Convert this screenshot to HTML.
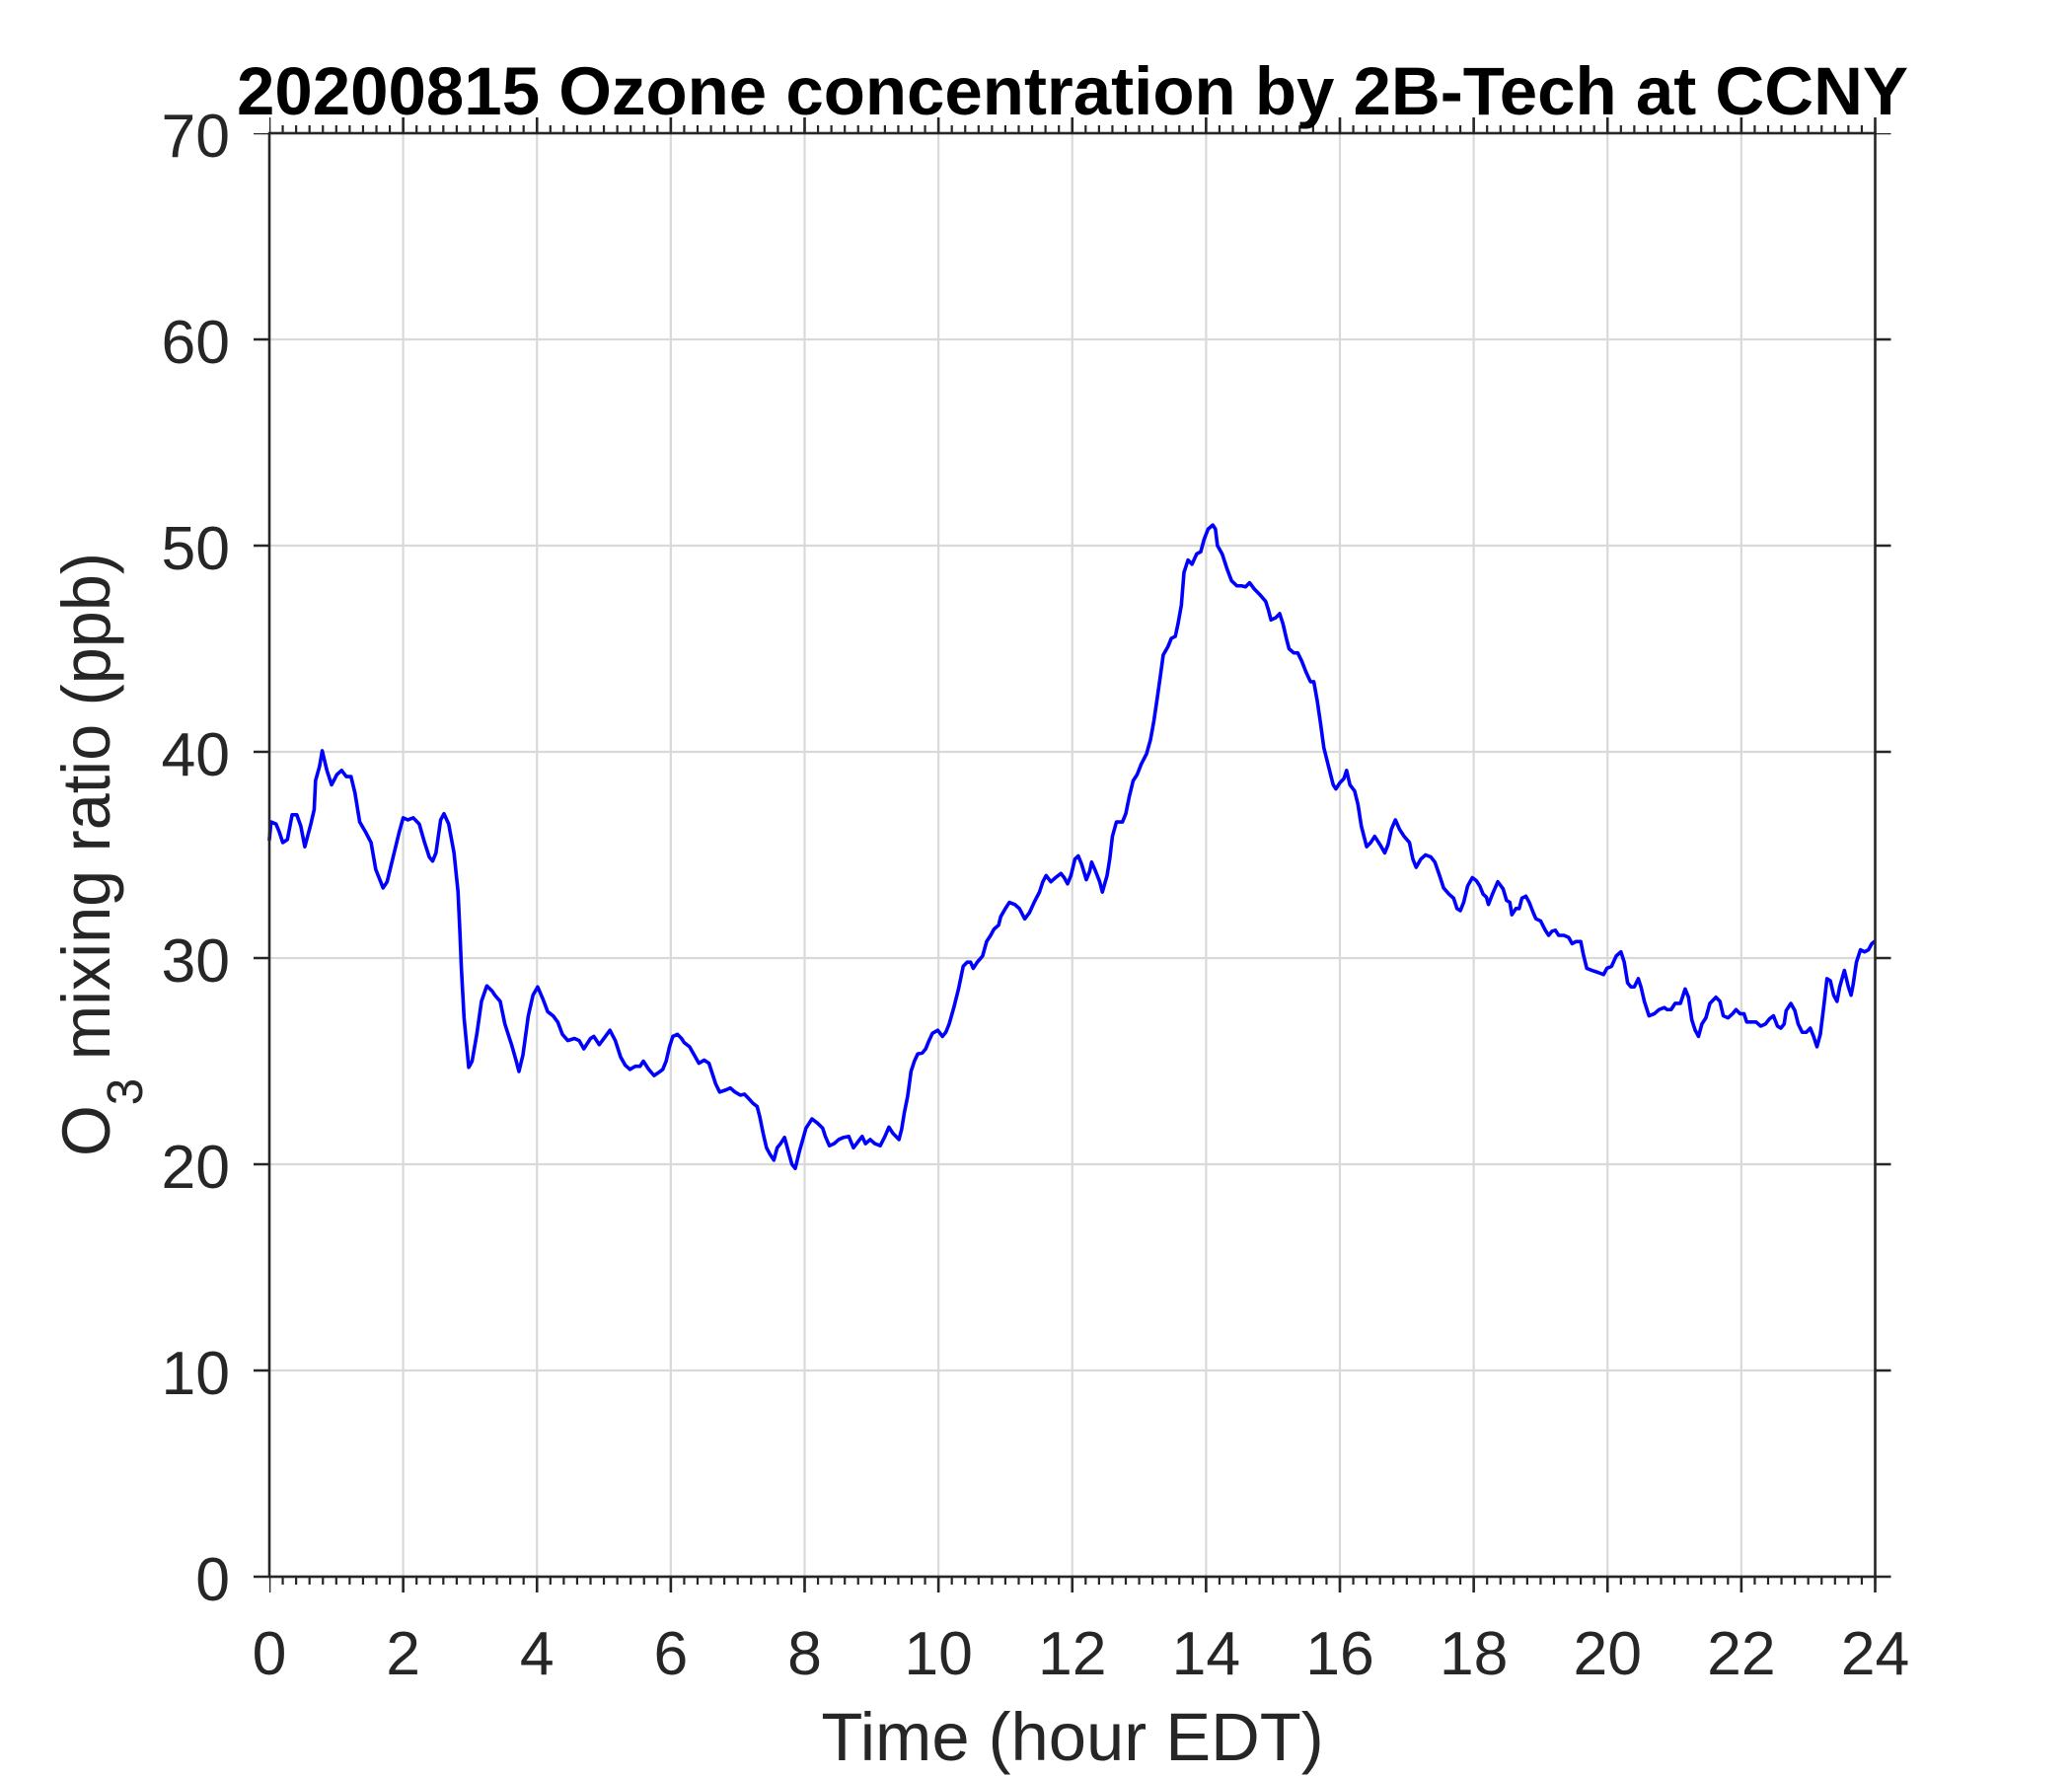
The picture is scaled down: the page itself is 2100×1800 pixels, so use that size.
<!DOCTYPE html>
<html>
<head>
<meta charset="utf-8">
<style>
html, body { margin: 0; padding: 0; background: #ffffff; }
svg { display: block; }
text { font-family: "Liberation Sans", Arial, sans-serif; }
</style>
</head>
<body>
<svg width="2100" height="1800" viewBox="0 0 2100 1800" xmlns="http://www.w3.org/2000/svg">
<rect x="0" y="0" width="2100" height="1800" fill="#ffffff"/>
<line x1="273" y1="866.5" x2="1901.6" y2="866.5" stroke="#d9d9d9" stroke-width="1463" stroke-dasharray="2.2 133.425" stroke-dashoffset="1.1"/>
<line x1="1087" y1="135" x2="1087" y2="1599.2" stroke="#d9d9d9" stroke-width="1627.5" stroke-dasharray="2.2 206.8" stroke-dashoffset="1.1"/>
<g transform="translate(273,1598) scale(67.8125,-20.9)">
<path fill="none" stroke="#0000ff" stroke-width="3.6" stroke-linejoin="round" stroke-linecap="round" vector-effect="non-scaling-stroke" d="M0 35.75 L0.025 36.6 L0.1 36.5 L0.15 36.1 L0.2 35.6 L0.27 35.75 L0.34 36.95 L0.41 36.95 L0.47 36.4 L0.53 35.4 L0.62 36.5 L0.67 37.2 L0.69 38.6 L0.75 39.3 L0.79 40.05 L0.86 39.1 L0.93 38.4 L1.01 38.9 L1.08 39.1 L1.15 38.8 L1.22 38.8 L1.28 38.0 L1.35 36.6 L1.44 36.1 L1.52 35.6 L1.59 34.3 L1.7 33.4 L1.76 33.7 L1.85 34.9 L1.94 36.1 L2.0 36.8 L2.07 36.7 L2.15 36.8 L2.24 36.5 L2.32 35.6 L2.39 34.9 L2.44 34.7 L2.49 35.1 L2.56 36.7 L2.61 37.0 L2.68 36.5 L2.76 35.1 L2.82 33.2 L2.85 31.1 L2.87 29.5 L2.91 27.1 L2.98 24.7 L3.03 25.0 L3.1 26.3 L3.17 27.9 L3.25 28.65 L3.33 28.4 L3.37 28.2 L3.45 27.9 L3.52 26.8 L3.62 25.8 L3.69 25.0 L3.73 24.5 L3.79 25.3 L3.87 27.2 L3.94 28.2 L4.01 28.6 L4.09 28.0 L4.16 27.4 L4.24 27.2 L4.31 26.9 L4.38 26.3 L4.46 26.0 L4.56 26.1 L4.63 26.0 L4.7 25.6 L4.8 26.1 L4.85 26.2 L4.93 25.8 L5.0 26.1 L5.09 26.5 L5.17 26.0 L5.25 25.2 L5.32 24.8 L5.39 24.6 L5.47 24.75 L5.54 24.75 L5.59 25.0 L5.67 24.6 L5.75 24.3 L5.84 24.5 L5.88 24.6 L5.93 25.0 L5.98 25.7 L6.03 26.2 L6.1 26.3 L6.16 26.1 L6.2 25.9 L6.28 25.7 L6.35 25.3 L6.42 24.9 L6.5 25.05 L6.57 24.9 L6.62 24.4 L6.67 23.9 L6.73 23.5 L6.82 23.6 L6.89 23.7 L6.96 23.5 L7.04 23.35 L7.1 23.4 L7.16 23.2 L7.23 22.95 L7.29 22.8 L7.33 22.3 L7.38 21.5 L7.43 20.8 L7.48 20.5 L7.54 20.2 L7.59 20.8 L7.64 21.0 L7.7 21.3 L7.75 20.7 L7.81 20.0 L7.86 19.8 L7.92 20.6 L8.02 21.75 L8.11 22.2 L8.19 22.0 L8.27 21.75 L8.31 21.35 L8.37 20.9 L8.44 21.0 L8.51 21.2 L8.58 21.3 L8.66 21.35 L8.73 20.8 L8.8 21.1 L8.86 21.35 L8.91 21.0 L8.98 21.2 L9.05 21.0 L9.13 20.9 L9.2 21.35 L9.26 21.8 L9.32 21.5 L9.41 21.2 L9.45 21.7 L9.49 22.5 L9.54 23.3 L9.59 24.5 L9.64 25.0 L9.69 25.35 L9.76 25.4 L9.81 25.6 L9.86 26.0 L9.91 26.35 L9.99 26.5 L10.06 26.2 L10.11 26.4 L10.16 26.8 L10.23 27.6 L10.3 28.5 L10.37 29.6 L10.43 29.8 L10.48 29.8 L10.52 29.5 L10.58 29.8 L10.66 30.1 L10.72 30.8 L10.78 31.1 L10.83 31.4 L10.9 31.6 L10.93 32.0 L11.0 32.4 L11.06 32.7 L11.14 32.6 L11.21 32.4 L11.29 31.9 L11.36 32.2 L11.43 32.7 L11.51 33.2 L11.56 33.7 L11.61 34.0 L11.68 33.7 L11.75 33.9 L11.83 34.1 L11.88 33.9 L11.93 33.6 L11.98 34.0 L12.04 34.8 L12.09 34.95 L12.14 34.55 L12.21 33.8 L12.26 34.2 L12.29 34.65 L12.35 34.2 L12.41 33.7 L12.45 33.2 L12.52 34.0 L12.56 34.8 L12.6 35.9 L12.66 36.6 L12.75 36.6 L12.8 37.0 L12.85 37.8 L12.91 38.6 L12.97 38.9 L13.03 39.4 L13.11 39.9 L13.17 40.6 L13.22 41.5 L13.27 42.6 L13.32 43.75 L13.36 44.7 L13.43 45.1 L13.48 45.5 L13.54 45.6 L13.58 46.2 L13.63 47.1 L13.67 48.7 L13.73 49.3 L13.79 49.1 L13.86 49.6 L13.92 49.7 L13.97 50.3 L14.03 50.8 L14.1 51.0 L14.14 50.8 L14.17 50.0 L14.24 49.6 L14.31 48.9 L14.38 48.3 L14.46 48.05 L14.53 48.05 L14.59 48.0 L14.65 48.2 L14.72 47.9 L14.81 47.6 L14.89 47.3 L14.93 46.9 L14.97 46.4 L15.04 46.5 L15.1 46.7 L15.15 46.2 L15.2 45.5 L15.24 45.0 L15.31 44.8 L15.37 44.8 L15.43 44.4 L15.49 43.9 L15.56 43.4 L15.61 43.4 L15.66 42.5 L15.71 41.4 L15.76 40.2 L15.83 39.3 L15.9 38.4 L15.94 38.2 L16.0 38.5 L16.06 38.7 L16.1 39.1 L16.15 38.4 L16.22 38.1 L16.27 37.45 L16.32 36.4 L16.4 35.4 L16.46 35.6 L16.52 35.9 L16.6 35.5 L16.67 35.1 L16.72 35.5 L16.77 36.25 L16.83 36.7 L16.89 36.25 L16.96 35.9 L17.04 35.6 L17.09 34.8 L17.14 34.4 L17.21 34.8 L17.28 35.0 L17.36 34.9 L17.42 34.65 L17.49 34.0 L17.55 33.4 L17.63 33.1 L17.7 32.9 L17.75 32.4 L17.8 32.3 L17.85 32.7 L17.91 33.5 L17.98 33.9 L18.04 33.75 L18.09 33.5 L18.14 33.1 L18.19 32.95 L18.22 32.6 L18.28 33.1 L18.36 33.7 L18.44 33.35 L18.49 32.8 L18.54 32.7 L18.57 32.1 L18.63 32.4 L18.68 32.4 L18.72 32.9 L18.78 33.0 L18.83 32.7 L18.89 32.2 L18.93 31.9 L19.0 31.8 L19.07 31.35 L19.12 31.1 L19.17 31.3 L19.22 31.35 L19.27 31.1 L19.35 31.1 L19.42 31.0 L19.47 30.7 L19.53 30.8 L19.6 30.8 L19.64 30.15 L19.69 29.5 L19.77 29.4 L19.86 29.3 L19.94 29.2 L19.99 29.5 L20.06 29.6 L20.13 30.1 L20.2 30.3 L20.25 29.8 L20.3 28.8 L20.35 28.6 L20.4 28.6 L20.46 29.0 L20.5 28.6 L20.55 27.9 L20.62 27.2 L20.7 27.3 L20.77 27.5 L20.85 27.6 L20.89 27.5 L20.95 27.5 L21.01 27.8 L21.09 27.8 L21.16 28.5 L21.21 28.1 L21.26 27.0 L21.31 26.5 L21.36 26.2 L21.41 26.8 L21.47 27.1 L21.53 27.8 L21.62 28.1 L21.68 27.9 L21.73 27.2 L21.8 27.1 L21.87 27.3 L21.92 27.5 L21.98 27.3 L22.04 27.3 L22.08 26.9 L22.16 26.9 L22.22 26.9 L22.29 26.7 L22.36 26.8 L22.42 27.05 L22.48 27.2 L22.54 26.7 L22.59 26.6 L22.64 26.8 L22.67 27.45 L22.74 27.8 L22.8 27.45 L22.85 26.8 L22.91 26.4 L22.97 26.4 L23.03 26.6 L23.08 26.2 L23.13 25.7 L23.18 26.3 L23.23 27.6 L23.28 29.0 L23.33 28.9 L23.38 28.2 L23.43 27.9 L23.47 28.6 L23.54 29.4 L23.6 28.6 L23.64 28.2 L23.67 28.7 L23.72 29.8 L23.78 30.4 L23.84 30.3 L23.9 30.4 L23.95 30.7 L23.99 30.8"/>
</g>
<rect x="273" y="135" width="1627.5" height="1463" fill="none" stroke="#262626" stroke-width="2.6"/>
<line x1="273" y1="1602" x2="1901.6" y2="1602" stroke="#262626" stroke-width="8" stroke-dasharray="2.2 11.3625" stroke-dashoffset="1.1"/>
<line x1="273" y1="131" x2="1901.6" y2="131" stroke="#262626" stroke-width="8" stroke-dasharray="2.2 11.3625" stroke-dashoffset="1.1"/>
<line x1="273" y1="1606" x2="1901.8" y2="1606" stroke="#262626" stroke-width="16" stroke-dasharray="2.6 133.025" stroke-dashoffset="1.3"/>
<line x1="273" y1="127" x2="1901.8" y2="127" stroke="#262626" stroke-width="16" stroke-dasharray="2.6 133.025" stroke-dashoffset="1.3"/>
<line x1="265" y1="135" x2="265" y2="1599.3" stroke="#262626" stroke-width="16" stroke-dasharray="2.6 206.4" stroke-dashoffset="1.3"/>
<line x1="1908.5" y1="135" x2="1908.5" y2="1599.3" stroke="#262626" stroke-width="16" stroke-dasharray="2.6 206.4" stroke-dashoffset="1.3"/>
<g fill="#262626" font-size="62.5" text-anchor="end">
<text x="233" y="1622">0</text>
<text x="233" y="1413">10</text>
<text x="233" y="1204">20</text>
<text x="233" y="995">30</text>
<text x="233" y="786">40</text>
<text x="233" y="577">50</text>
<text x="233" y="368">60</text>
<text x="233" y="159">70</text>
</g>
<g fill="#262626" font-size="62.5" text-anchor="middle">
<text x="273" y="1697">0</text>
<text x="408.63" y="1697">2</text>
<text x="544.25" y="1697">4</text>
<text x="679.88" y="1697">6</text>
<text x="815.5" y="1697">8</text>
<text x="951.13" y="1697">10</text>
<text x="1086.75" y="1697">12</text>
<text x="1222.38" y="1697">14</text>
<text x="1358" y="1697">16</text>
<text x="1493.63" y="1697">18</text>
<text x="1629.25" y="1697">20</text>
<text x="1764.88" y="1697">22</text>
<text x="1900.5" y="1697">24</text>
</g>
<text x="1087" y="116" text-anchor="middle" font-size="68.75" font-weight="bold" fill="#000000" textLength="1694" lengthAdjust="spacingAndGlyphs">20200815 Ozone concentration by 2B-Tech at CCNY</text>
<text x="1087" y="1784" text-anchor="middle" font-size="68.75" fill="#262626">Time (hour EDT)</text>
<text transform="translate(111,866) rotate(-90)" text-anchor="middle" font-size="68.75" fill="#262626" textLength="612" lengthAdjust="spacingAndGlyphs">O<tspan font-size="51" dy="33">3</tspan><tspan dy="-33"> mixing ratio (ppb)</tspan></text>
</svg>
</body>
</html>
